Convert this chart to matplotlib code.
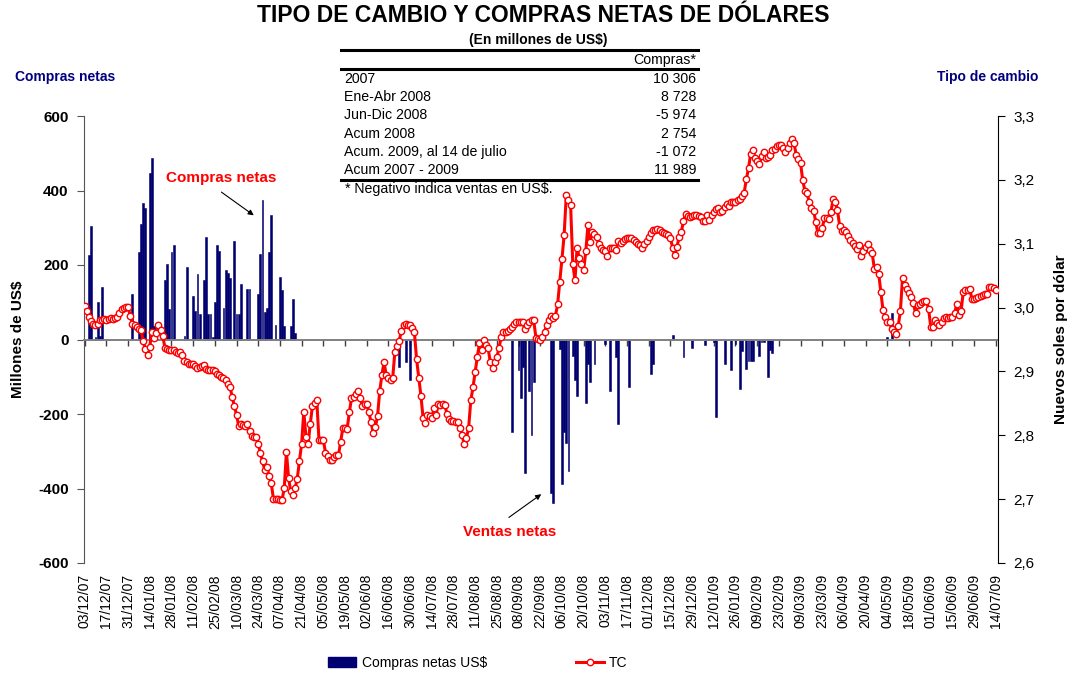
import matplotlib
matplotlib.use("Agg")
import matplotlib.pyplot as plt
from matplotlib.lines import Line2D
from matplotlib.patches import Patch

plt.rcParams['font.family'] = ['Liberation Sans', 'DejaVu Sans']

NAVY = '#000070'
RED = '#ff0000'

# tipo de cambio diario (S/. por US$), un valor por dia habil desde 03/12/07
tc = [
    3.003, 2.994, 2.986, 2.979, 2.975, 2.972, 2.975, 2.981, 2.981, 2.982,
    2.981, 2.982, 2.983, 2.982, 2.984, 2.985, 2.992, 2.997, 2.999, 3.001,
    3.001, 2.987, 2.974, 2.973, 2.970, 2.967, 2.965, 2.947, 2.935, 2.926,
    2.939, 2.962, 2.952, 2.960, 2.973, 2.965, 2.956, 2.937, 2.935, 2.934,
    2.934, 2.933, 2.931, 2.929, 2.930, 2.926, 2.917, 2.915, 2.912, 2.912,
    2.912, 2.908, 2.905, 2.907, 2.909, 2.910, 2.904, 2.902, 2.902, 2.902,
    2.900, 2.896, 2.894, 2.892, 2.889, 2.887, 2.881, 2.876, 2.860, 2.846,
    2.832, 2.815, 2.817, 2.816, 2.815, 2.818, 2.807, 2.799, 2.798, 2.798,
    2.787, 2.772, 2.759, 2.746, 2.751, 2.736, 2.725, 2.701, 2.700, 2.700,
    2.699, 2.699, 2.717, 2.774, 2.733, 2.712, 2.707, 2.717, 2.732, 2.760,
    2.786, 2.837, 2.798, 2.786, 2.818, 2.846, 2.850, 2.855, 2.793, 2.793,
    2.793, 2.773, 2.767, 2.761, 2.762, 2.766, 2.769, 2.769, 2.790, 2.811,
    2.811, 2.810, 2.836, 2.858, 2.860, 2.865, 2.870, 2.858, 2.846, 2.849,
    2.849, 2.836, 2.821, 2.804, 2.813, 2.830, 2.869, 2.894, 2.915, 2.894,
    2.890, 2.887, 2.890, 2.931, 2.940, 2.948, 2.964, 2.973, 2.975, 2.973,
    2.973, 2.968, 2.961, 2.919, 2.890, 2.862, 2.827, 2.819, 2.832, 2.830,
    2.827, 2.842, 2.832, 2.849, 2.848, 2.849, 2.847, 2.834, 2.825, 2.823,
    2.822, 2.821, 2.821, 2.812, 2.800, 2.786, 2.796, 2.812, 2.855, 2.875,
    2.899, 2.923, 2.944, 2.934, 2.949, 2.942, 2.936, 2.914, 2.905, 2.914,
    2.922, 2.937, 2.954, 2.962, 2.962, 2.963, 2.966, 2.970, 2.975, 2.978,
    2.978, 2.978, 2.978, 2.966, 2.972, 2.977, 2.981, 2.980, 2.953, 2.950,
    2.949, 2.954, 2.962, 2.973, 2.980, 2.987, 2.984, 2.987, 3.005, 3.040,
    3.076, 3.113, 3.176, 3.168, 3.160, 3.069, 3.043, 3.094, 3.077, 3.069,
    3.059, 3.088, 3.130, 3.103, 3.119, 3.115, 3.110, 3.099, 3.093, 3.090,
    3.088, 3.080, 3.093, 3.094, 3.093, 3.090, 3.104, 3.101, 3.105, 3.108,
    3.109, 3.109, 3.109, 3.106, 3.103, 3.100, 3.098, 3.094, 3.099, 3.104,
    3.110, 3.116, 3.121, 3.122, 3.123, 3.121, 3.118, 3.116, 3.115, 3.114,
    3.109, 3.094, 3.082, 3.095, 3.110, 3.118, 3.135, 3.147, 3.144, 3.142,
    3.143, 3.145, 3.145, 3.144, 3.142, 3.136, 3.136, 3.145, 3.137, 3.145,
    3.150, 3.154, 3.156, 3.149, 3.152, 3.157, 3.162, 3.159, 3.165, 3.166,
    3.166, 3.168, 3.170, 3.175, 3.180, 3.201, 3.218, 3.241, 3.246, 3.234,
    3.230, 3.225, 3.237, 3.243, 3.234, 3.236, 3.239, 3.246, 3.249, 3.253,
    3.254, 3.255, 3.250, 3.244, 3.250, 3.258, 3.264, 3.257, 3.239, 3.232,
    3.226, 3.199, 3.183, 3.179, 3.165, 3.156, 3.152, 3.134, 3.116, 3.116,
    3.124, 3.141, 3.141, 3.138, 3.150, 3.170, 3.166, 3.153, 3.128, 3.120,
    3.121, 3.118, 3.112, 3.106, 3.101, 3.096, 3.091, 3.098, 3.081, 3.088,
    3.095, 3.100, 3.090, 3.085, 3.061, 3.064, 3.053, 3.025, 2.996, 2.985,
    2.978, 2.978, 2.966, 2.961, 2.959, 2.971, 2.994, 3.047, 3.035, 3.029,
    3.023, 3.017, 3.007, 2.991, 3.004, 3.006, 3.009, 3.010, 3.011, 2.998,
    2.970, 2.970, 2.980, 2.976, 2.973, 2.978, 2.983, 2.985, 2.984, 2.985,
    2.985, 2.991, 3.006, 2.988, 2.995, 3.025, 3.027, 3.028, 3.029, 3.013,
    3.013, 3.015, 3.017, 3.018, 3.020, 3.021, 3.022, 3.032, 3.032, 3.030,
    3.028,
]

# compras netas del BCR (mill. US$): dia habil (indice) y monto
compras_dia = [
    2, 3, 5, 6, 7, 8, 22, 25, 26, 27, 28, 30, 31, 32, 33, 37, 38, 39, 40, 41,
    46, 47, 50, 51, 52, 53, 55, 56, 57, 58, 59, 60, 61, 62, 64, 65, 66, 67,
    69, 70, 71, 72, 75, 76, 80, 81, 82, 83, 84, 85, 86, 88, 90, 91, 92, 95,
    96, 97,
    145, 148, 150, 197, 200, 201, 202, 203, 205, 206, 207, 215, 216, 219,
    220, 221, 222, 223, 225, 226, 227, 231, 232, 233, 235, 240, 242, 245,
    246, 251, 261, 262, 271, 276, 280, 286, 290, 291, 295, 298, 300, 302,
    303, 305, 306, 307, 308, 311, 312, 313, 315, 316, 317, 370, 372,
]
compras_monto = [
    226, 304, 8, 102, 10, 142, 121, 236, 311, 367, 354, 446, 486, 37, 37, 159, 204, 83, 235, 255,
    10, 194, 116, 76, 175, 69, 161, 275, 69, 69, 8, 102, 253, 238, 85, 186, 178, 166,
    264, 69, 69, 148, 135, 136, 121, 229, 374, 73, 84, 234, 334, 40, 168, 134, 37, 35,
    108, 18,
    -74, -61, -110, -249, -83, -158, -74, -359, -137, -256, -115, -412, -438, -25,
    -388, -248, -278, -352, -45, -110, -151, -170, -65, -115, -65, -12, -139, -48,
    -227, -128, -92, -65, 11, -48, -22, -16, -7, -209, -65, -83, -12, -133,
    -30, -79, -58, -57, -58, -45, -8, -8, -100, -28, -37, 8, 71,
]

fechas = [
    '03/12/07', '17/12/07', '31/12/07', '14/01/08', '28/01/08', '11/02/08',
    '25/02/08', '10/03/08', '24/03/08', '07/04/08', '21/04/08', '05/05/08',
    '19/05/08', '02/06/08', '16/06/08', '30/06/08', '14/07/08', '28/07/08',
    '11/08/08', '25/08/08', '08/09/08', '22/09/08', '06/10/08', '20/10/08',
    '03/11/08', '17/11/08', '01/12/08', '15/12/08', '29/12/08', '12/01/09',
    '26/01/09', '09/02/09', '23/02/09', '09/03/09', '23/03/09', '06/04/09',
    '20/04/09', '04/05/09', '18/05/09', '01/06/09', '15/06/09', '29/06/09',
    '14/07/09',
]

tabla_filas = ['2007', 'Ene-Abr 2008', 'Jun-Dic 2008', 'Acum 2008',
               'Acum. 2009, al 14 de julio', 'Acum 2007 - 2009']
tabla_valores = ['10 306', '8 728', '-5 974', '2 754', '-1 072', '11 989']

W, H = 1071, 676
fig = plt.figure(figsize=(W / 100, H / 100), dpi=100)
ax = fig.add_axes([84 / W, 1 - 563 / H, (998 - 84) / W, (563 - 116) / H])
ax2 = ax.twinx()

dias = list(range(len(tc)))
ax.bar(compras_dia, compras_monto, width=0.85, color=NAVY, edgecolor=NAVY,
       linewidth=0.4, zorder=2)
ax2.plot(dias, tc, color=RED, lw=2.2, marker='o', ms=4.6, mfc='white',
         mec=RED, mew=1.0, zorder=3)

ax.set_xlim(-0.3, len(tc))
ax.set_ylim(-600, 600)
ax.set_yticks(range(-600, 601, 200))
ax.set_yticklabels([str(v) for v in range(-600, 601, 200)], fontweight='bold', fontsize=11)
ax2.set_ylim(2.6, 3.3)
ticks_tc = [2.6, 2.7, 2.8, 2.9, 3.0, 3.1, 3.2, 3.3]
ax2.set_yticks(ticks_tc)
ax2.set_yticklabels([f'{v:.1f}'.replace('.', ',') for v in ticks_tc], fontsize=11)

# eje de categorias cruzando en cero
pos = list(range(0, 10 * len(fechas), 10))
ax.spines['bottom'].set_position(('data', 0))
ax.spines['bottom'].set_color('#808080')
ax.spines['bottom'].set_linewidth(1.4)
ax.set_xticks(pos)
ax.tick_params(axis='x', direction='out', length=4, width=1, color='#404040', labelbottom=False)
sec = ax.secondary_xaxis('bottom')
sec.set_xticks(pos, fechas)
sec.spines['bottom'].set_visible(False)
sec.tick_params(length=0, labelsize=10, rotation=90, pad=8)

for a in (ax, ax2):
    a.spines['top'].set_visible(False)
ax2.spines['bottom'].set_visible(False)
ax.spines['left'].set_color('#555555')
ax.spines['right'].set_visible(False)
ax2.spines['left'].set_visible(False)
ax2.spines['right'].set_color('black')
ax.tick_params(axis='y', direction='out', length=5, color='#555555', pad=6)
ax2.tick_params(axis='y', direction='out', length=5, pad=6)

# anotaciones
ax.text(63, 433, 'Compras netas', color=RED, fontweight='bold', fontsize=11,
        ha='center', va='center')
ax.annotate('', xy=(79, 329), xytext=(62, 400),
            arrowprops=dict(arrowstyle='-|>', color='black', lw=0.8, mutation_scale=8))
ax.text(196, -516, 'Ventas netas', color=RED, fontweight='bold', fontsize=11,
        ha='center', va='center')
ax.annotate('', xy=(211.5, -411), xytext=(194.5, -482),
            arrowprops=dict(arrowstyle='-|>', color='black', lw=0.8, mutation_scale=8))

# titulos y ejes
fig.text(543 / W, 1 - 16 / H, 'TIPO DE CAMBIO Y COMPRAS NETAS DE DÓLARES',
         fontsize=16.5, fontweight='bold', ha='center', va='center')
fig.text(538 / W, 1 - 40 / H, '(En millones de US$)', fontsize=10,
         fontweight='bold', ha='center', va='center')
fig.text(15 / W, 1 - 77 / H, 'Compras netas', color='#000080', fontsize=10,
         fontweight='bold', ha='left', va='center')
fig.text(1038 / W, 1 - 77 / H, 'Tipo de cambio', color='#000080', fontsize=10,
         fontweight='bold', ha='right', va='center')
fig.text(18 / W, 1 - 339 / H, 'Millones de US$', rotation=90, fontsize=11,
         fontweight='bold', ha='center', va='center')
fig.text(1061 / W, 1 - 339 / H, 'Nuevos soles por dólar', rotation=90, fontsize=11,
         fontweight='bold', ha='center', va='center')

# tabla resumen
x0, x1 = 341 / W, 698 / W
for yy in (50, 69, 180):
    fig.add_artist(Line2D([x0, x1], [1 - yy / H, 1 - yy / H], color='black', lw=2.2))
fig.text(696 / W, 1 - 60 / H, 'Compras*', fontsize=10.2, ha='right', va='center')
for i, (fila, val) in enumerate(zip(tabla_filas, tabla_valores)):
    yy = 79 + i * 18.2
    fig.text(344 / W, 1 - yy / H, fila, fontsize=10.2, ha='left', va='center')
    fig.text(696 / W, 1 - yy / H, val, fontsize=10.2, ha='right', va='center')
fig.text(345 / W, 1 - 189 / H, '* Negativo indica ventas en US$.', fontsize=10.2,
         ha='left', va='center')

handles = [Patch(color=NAVY, label='Compras netas US$'),
           Line2D([], [], color=RED, lw=2.2, marker='o', ms=4.6, mfc='white',
                  mec=RED, label='TC')]
fig.legend(handles=handles, loc='center', bbox_to_anchor=(478 / W, 1 - 663 / H),
           ncol=2, frameon=False, fontsize=10, handlelength=2.0, handleheight=0.8,
           columnspacing=6.4, handletextpad=0.4)

fig.savefig('out.png', dpi=100)
